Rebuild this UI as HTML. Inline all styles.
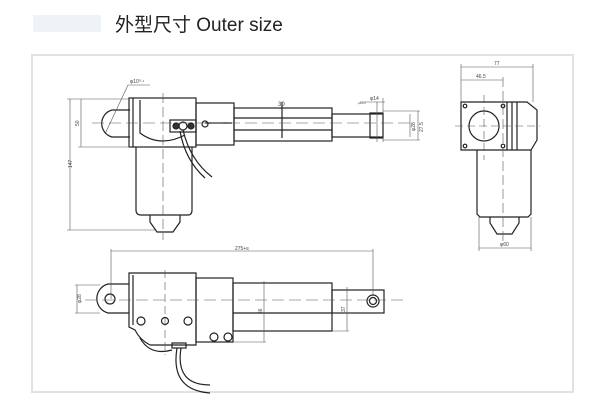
<!DOCTYPE html>
<html><head><meta charset="utf-8"><style>
html,body{margin:0;padding:0;background:#fff;width:600px;height:410px;overflow:hidden}
svg{position:absolute;left:0;top:0}
</style></head><body>
<svg width="600" height="410" viewBox="0 0 600 410" xmlns="http://www.w3.org/2000/svg" font-family="Liberation Sans, sans-serif">
<rect x="33" y="15" width="68" height="17" fill="#eef3f8"/>
<text x="115" y="31" font-size="19" font-family="Liberation Sans, Noto Sans CJK SC, sans-serif" fill="#222">外型尺寸 Outer size</text>
<rect x="32" y="55" width="541" height="337" fill="none" stroke="#e2e2e2" stroke-width="2"/>
<g fill="none" stroke="#222" stroke-width="1.2">
<path d="M130 110 H112 A14 14 0 0 0 112 137 H130"/>
<rect x="129" y="98" width="67" height="49"/>
<line x1="133" y1="98" x2="133" y2="147"/>
<path d="M140 100 V133 Q160 148 185 135"/>
<rect x="196" y="103" width="38" height="42"/>
<rect x="234" y="108" width="98" height="33"/>
<line x1="234" y1="118" x2="332" y2="118"/><line x1="234" y1="130" x2="332" y2="130"/>
<rect x="332" y="114" width="51" height="23"/>
<rect x="370" y="113" width="13" height="25"/>
<path d="M136 147 V210 Q136 215 141 215 H188 Q192 215 192 210 V147"/>
<path d="M150 215 V222 L157 232 H173 L180 222 V215"/>
<rect x="170" y="120" width="26" height="12"/>
<circle cx="176" cy="126" r="3" fill="#333"/><circle cx="183" cy="126" r="4"/><circle cx="191" cy="126" r="3" fill="#333"/>
<path d="M183 130 Q190 160 212 177"/><path d="M180 131 Q185 160 205 178"/>
<path d="M205 123 H232" /><circle cx="205" cy="124" r="3"/>
<line x1="282" y1="102" x2="282" y2="138"/>
</g>
<g stroke="#555" stroke-width="0.6" fill="none">
<line x1="92" y1="123" x2="410" y2="123" stroke-dasharray="12 5"/>
<line x1="163" y1="93" x2="163" y2="240" stroke-dasharray="10 4"/>
<line x1="70" y1="99" x2="70" y2="230"/><line x1="67" y1="99" x2="130" y2="99"/><line x1="67" y1="230" x2="155" y2="230"/>
<line x1="81" y1="99" x2="81" y2="147"/><line x1="78" y1="147" x2="130" y2="147"/>
<path d="M105 134 L128 85 H150"/>
<line x1="377" y1="102" x2="377" y2="142"/><line x1="383" y1="98" x2="383" y2="142"/>
<line x1="360" y1="102" x2="385" y2="102"/>
<line x1="410" y1="114" x2="410" y2="137"/><line x1="418" y1="111" x2="418" y2="140"/>
<line x1="383" y1="111" x2="420" y2="111"/><line x1="383" y1="140" x2="420" y2="140"/>
</g>
<g font-size="5" fill="#444">
<text x="130" y="83">φ10⁰·¹</text>
<text x="72" y="168" transform="rotate(-90 72 168)">147</text>
<text x="79" y="126" transform="rotate(-90 79 126)">50</text>
<text x="278" y="106" font-size="6">30</text>
<text x="370" y="100">φ14</text>
<text x="358" y="104" font-size="3">φ10.2</text>
<text x="415" y="131" transform="rotate(-90 415 131)">φ28</text>
<text x="423" y="132" transform="rotate(-90 423 132)">27.5</text>
</g>
<g fill="none" stroke="#222" stroke-width="1.2">
<path d="M461 102 H527 L537 110 V140 L531 150 H461 Z"/>
<line x1="507" y1="102" x2="507" y2="150"/><line x1="512" y1="102" x2="512" y2="150"/><line x1="517" y1="102" x2="517" y2="150"/>
<circle cx="484" cy="126" r="15"/>
<circle cx="465" cy="106" r="1.8"/><circle cx="503" cy="106" r="1.8"/><circle cx="465" cy="146" r="1.8"/><circle cx="503" cy="146" r="1.8"/>
<path d="M477 150 V214 L480 217 H528 L531 214 V150"/>
<path d="M490 217 V223 L497 234 H512 L519 223 V217"/>
</g>
<g stroke="#555" stroke-width="0.6" fill="none">
<line x1="461" y1="67" x2="533" y2="67"/><line x1="461" y1="64" x2="461" y2="102"/><line x1="533" y1="64" x2="533" y2="102"/>
<line x1="461" y1="80" x2="503" y2="80"/><line x1="503" y1="77" x2="503" y2="245" stroke-dasharray="10 4"/>
<line x1="455" y1="126" x2="540" y2="126" stroke-dasharray="8 4"/><line x1="484" y1="95" x2="484" y2="160" stroke-dasharray="8 4"/>
<line x1="479" y1="248" x2="531" y2="248"/><line x1="479" y1="217" x2="479" y2="251"/><line x1="531" y1="217" x2="531" y2="251"/>
</g>
<g font-size="5" fill="#444"><text x="494" y="65">77</text><text x="476" y="78">46.5</text><text x="500" y="246">φ60</text></g>
<g fill="none" stroke="#222" stroke-width="1.2">
<path d="M129 284 H108 A15 15 0 0 0 108 313 H129"/>
<circle cx="110" cy="299" r="5"/>
<path d="M129 273 H196 V345 H150 Q140 340 135 330 L129 327 Z"/>
<line x1="133" y1="275" x2="133" y2="325"/>
<path d="M140 338 Q150 356 172 350"/>
<rect x="196" y="278" width="37" height="64"/>
<rect x="233" y="283" width="99" height="48"/>
<line x1="233" y1="313" x2="332" y2="313"/>
<rect x="332" y="290" width="52" height="23"/>
<circle cx="373" cy="301" r="6"/><circle cx="373" cy="301" r="3.5"/>
<circle cx="141" cy="321" r="4"/><circle cx="165" cy="321" r="3.5"/><circle cx="188" cy="321" r="4"/>
<circle cx="214" cy="337" r="4"/><circle cx="228" cy="337" r="4"/>
<rect x="172" y="343" width="14" height="5"/>
<path d="M181 348 Q175 385 210 385"/><path d="M177 348 Q170 390 210 393"/>
</g>
<g stroke="#555" stroke-width="0.6" fill="none">
<line x1="85" y1="300" x2="408" y2="300" stroke-dasharray="12 5"/>
<line x1="165" y1="270" x2="165" y2="355" stroke-dasharray="8 4"/>
<line x1="111" y1="251" x2="373" y2="251"/><line x1="111" y1="249" x2="111" y2="299"/><line x1="373" y1="249" x2="373" y2="295"/>
<line x1="77" y1="285" x2="77" y2="313"/><line x1="75" y1="285" x2="100" y2="285"/><line x1="75" y1="313" x2="100" y2="313"/>
<line x1="264" y1="281" x2="264" y2="342"/><line x1="233" y1="342" x2="266" y2="342"/>
<line x1="347" y1="287" x2="347" y2="331"/><line x1="332" y1="331" x2="349" y2="331"/>
</g>
<g font-size="5" fill="#444"><text x="235" y="250">275+s</text>
<text x="81" y="303" transform="rotate(-90 81 303)">φ28</text>
<text x="262" y="314" transform="rotate(-90 262 314)">66</text>
<text x="345" y="312" transform="rotate(-90 345 312)">37</text></g>
</svg>
</body></html>
